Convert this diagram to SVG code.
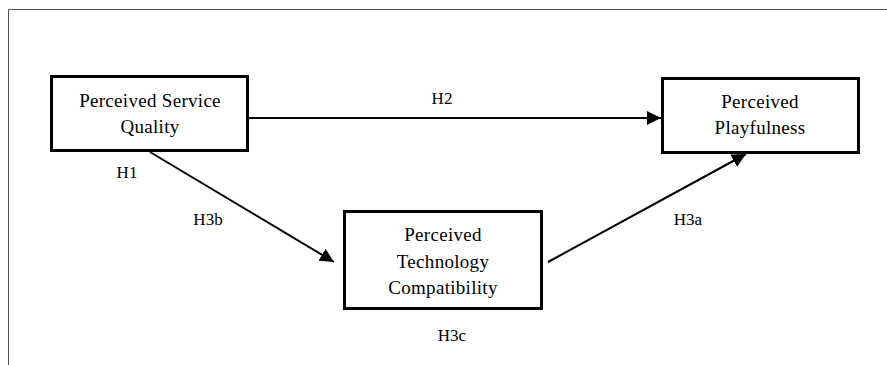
<svg xmlns="http://www.w3.org/2000/svg" width="887" height="365" viewBox="0 0 887 365">
<defs>
<style>
.node rect{fill:#fff;stroke:#000;stroke-width:3}
.node text,.lbl{font-family:"Liberation Serif","Times New Roman",serif;font-size:19px;letter-spacing:0.3px;fill:#000;text-anchor:middle}
.lbl{font-size:17px;letter-spacing:0}
.conn line{stroke:#000;stroke-width:2}
</style>
<marker id="ah" viewBox="0 0 10 10" refX="10" refY="5" markerWidth="7" markerHeight="7" markerUnits="strokeWidth" orient="auto">
<path d="M0,0 L10,5 L0,10 z" fill="#000"/>
</marker>
</defs>
<rect width="887" height="365" fill="#fff"/>
<path d="M8.5,365 V9.5 H887" fill="none" stroke="#555" stroke-width="1"/>
<g id="connectors" class="conn">
<line x1="248" y1="118" x2="661" y2="118" marker-end="url(#ah)"/>
<line x1="150" y1="152" x2="334" y2="262" marker-end="url(#ah)"/>
<line x1="548" y1="262" x2="746" y2="154" marker-end="url(#ah)"/>
</g>
<g id="node-service" class="node">
<rect x="51.5" y="76.5" width="196" height="74"/>
<text x="150" y="107">Perceived Service</text>
<text x="150" y="133">Quality</text>
</g>
<g id="node-playfulness" class="node">
<rect x="662.5" y="78.5" width="196" height="74"/>
<text x="760" y="108">Perceived</text>
<text x="760" y="134">Playfulness</text>
</g>
<g id="node-technology" class="node">
<rect x="344.5" y="211.5" width="197" height="97"/>
<text x="443" y="241">Perceived</text>
<text x="443" y="268">Technology</text>
<text x="443" y="294">Compatibility</text>
</g>
<g id="labels">
<text class="lbl" x="442" y="104">H2</text>
<text class="lbl" x="127" y="178">H1</text>
<text class="lbl" x="208" y="225">H3b</text>
<text class="lbl" x="688" y="225">H3a</text>
<text class="lbl" x="452" y="341">H3c</text>
</g>
</svg>
